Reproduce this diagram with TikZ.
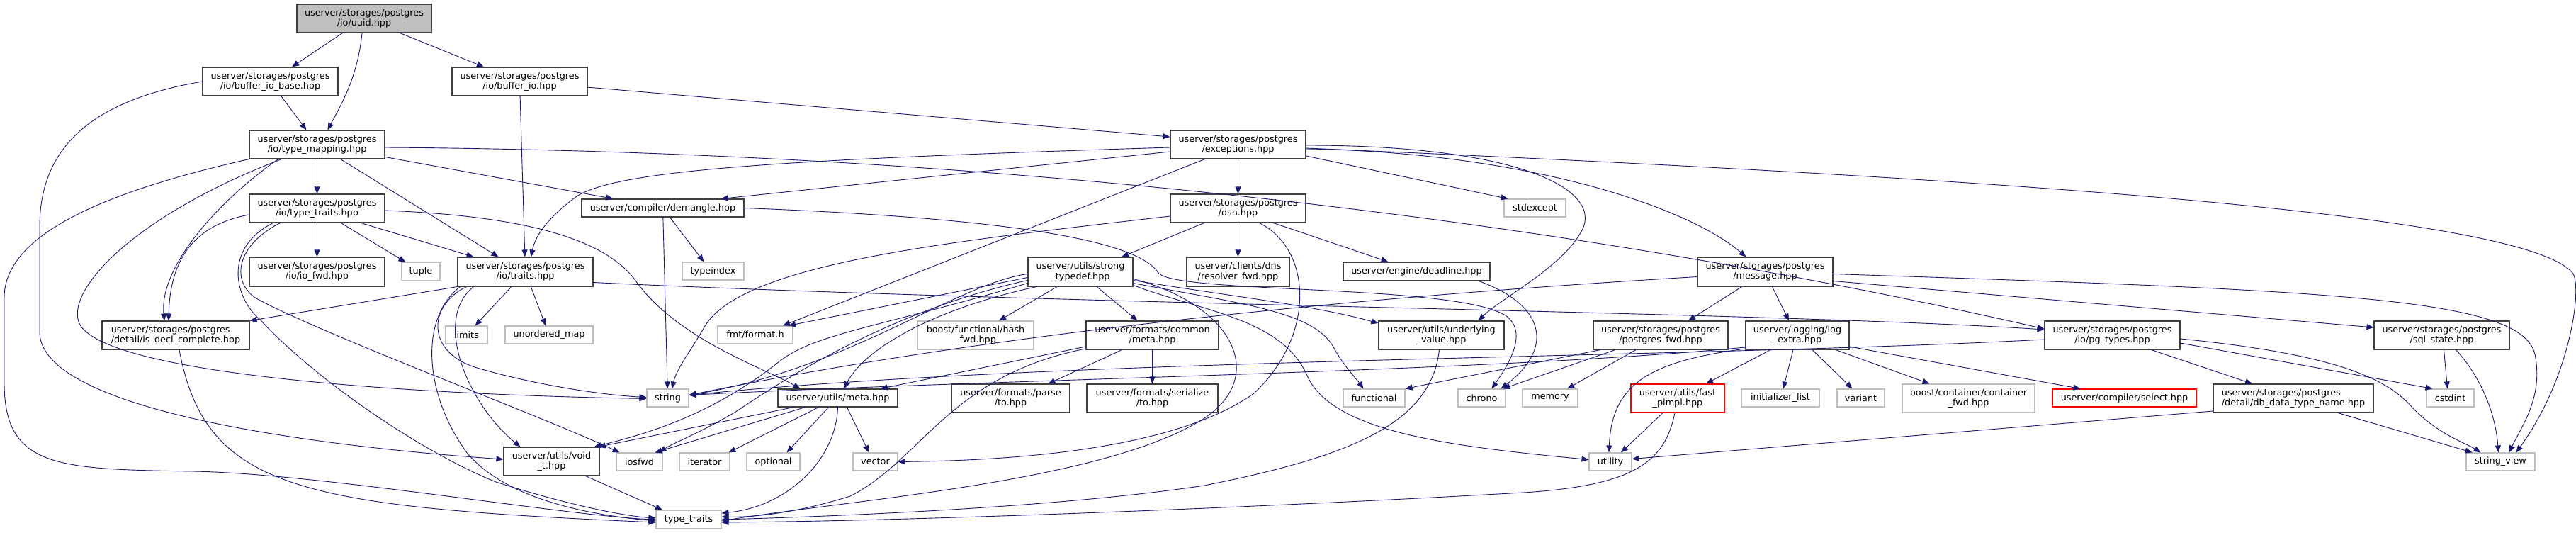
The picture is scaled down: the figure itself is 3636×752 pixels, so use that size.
\documentclass[tikz,border=0pt]{standalone}
\usepackage{fontspec}
\setmainfont{DejaVu Sans}
\usetikzlibrary{arrows.meta}
\definecolor{edgec}{HTML}{191970}
\definecolor{bordc}{HTML}{404040}
\definecolor{grayb}{HTML}{BFBFBF}
\definecolor{redb}{HTML}{FF0000}
\newcommand{\dxfont}{\fontsize{12.8pt}{14.3pt}\selectfont}
\tikzset{
  nb/.style={draw=bordc, fill=white, line width=1.1pt, inner sep=0pt, align=center, font=\dxfont, rectangle},
  ng/.style={nb, draw=grayb},
  nr/.style={nb, draw=redb},
  nm/.style={nb, fill=grayb},
  e/.style={draw=edgec, line width=0.9pt, -{Triangle[length=10pt,width=8pt]}},
}
\begin{document}
\begin{tikzpicture}[x=1pt,y=-1pt]
\useasboundingbox[fill=white] (0,0) rectangle (3636,752);
% nodes
\node[nm, minimum width=190pt, minimum height=40pt] (uuid) at (514,26) {userver/storages/postgres\\/io/uuid.hpp};
\node[nb, minimum width=191pt, minimum height=40pt] (bib) at (381.5,115) {userver/storages/postgres\\/io/buffer\_io\_base.hpp};
\node[nb, minimum width=191pt, minimum height=40pt] (bio) at (733.5,115) {userver/storages/postgres\\/io/buffer\_io.hpp};
\node[nb, minimum width=191pt, minimum height=40pt] (tm) at (447.5,204) {userver/storages/postgres\\/io/type\_mapping.hpp};
\node[nb, minimum width=191pt, minimum height=40pt] (tti) at (447.5,294) {userver/storages/postgres\\/io/type\_traits.hpp};
\node[nb, minimum width=191pt, minimum height=41pt] (iofwd) at (447.5,383.5) {userver/storages/postgres\\/io/io\_fwd.hpp};
\node[ng, minimum width=54pt, minimum height=25pt] (tuple) at (594,383) {tuple};
\node[nb, minimum width=229pt, minimum height=25pt] (dem) at (935.5,293.5) {userver/compiler/demangle.hpp};
\node[nb, minimum width=191pt, minimum height=41pt] (trt) at (741.5,383.5) {userver/storages/postgres\\/io/traits.hpp};
\node[ng, minimum width=87pt, minimum height=25pt] (tidx) at (1006.5,382.5) {typeindex};
\node[nb, minimum width=191pt, minimum height=40pt] (exc) at (1747.5,204) {userver/storages/postgres\\/exceptions.hpp};
\node[nb, minimum width=191pt, minimum height=40pt] (dsn) at (1747.5,294) {userver/storages/postgres\\/dsn.hpp};
\node[nb, minimum width=148pt, minimum height=41pt] (st) at (1525,383.5) {userver/utils/strong\\\_typedef.hpp};
\node[nb, minimum width=145pt, minimum height=41pt] (rfwd) at (1747.5,383.5) {userver/clients/dns\\/resolver\_fwd.hpp};
\node[ng, minimum width=87pt, minimum height=25pt] (stdexc) at (2166.5,293.5) {stdexcept};
\node[nb, minimum width=207pt, minimum height=26pt] (dl) at (1999.5,383) {userver/engine/deadline.hpp};
\node[nb, minimum width=191pt, minimum height=41pt] (msg) at (2491.5,383.5) {userver/storages/postgres\\/message.hpp};
\node[nb, minimum width=208pt, minimum height=40pt, align=left] (idc) at (248,473) {userver/storages/postgres\\/detail/is\_decl\_complete.hpp};
\node[ng, minimum width=59pt, minimum height=25pt] (lim) at (658.5,472.5) {limits};
\node[ng, minimum width=124pt, minimum height=25pt] (umap) at (775,472.5) {unordered\_map};
\node[ng, minimum width=106pt, minimum height=25pt] (fmt) at (1066,472.5) {fmt/format.h};
\node[ng, minimum width=59pt, minimum height=25pt] (str) at (942.5,561.5) {string};
\node[nb, minimum width=169pt, minimum height=25pt] (meta) at (1182.5,561.5) {userver/utils/meta.hpp};
\node[nb, minimum width=135pt, minimum height=40pt] (vti) at (778.5,651) {userver/utils/void\\\_t.hpp};
\node[ng, minimum width=65pt, minimum height=25pt] (iosfwd) at (902.5,651.5) {iosfwd};
\node[ng, minimum width=71pt, minimum height=25pt] (iter) at (994.5,651.5) {iterator};
\node[ng, minimum width=75pt, minimum height=25pt] (opt) at (1091.5,651.5) {optional};
\node[ng, minimum width=92pt, minimum height=26pt] (ttr) at (972,733) {type\_traits};
\node[ng, minimum width=164pt, minimum height=40pt] (hfwd) at (1377,473) {boost/functional/hash\\\_fwd.hpp};
\node[nb, minimum width=187pt, minimum height=40pt] (fcm) at (1626.5,473) {userver/formats/common\\/meta.hpp};
\node[nb, minimum width=167pt, minimum height=40pt] (fpt) at (1426.5,562) {userver/formats/parse\\/to.hpp};
\node[nb, minimum width=185pt, minimum height=40pt] (fst) at (1626.5,562) {userver/formats/serialize\\/to.hpp};
\node[ng, minimum width=63pt, minimum height=25pt] (vec) at (1235.5,651.5) {vector};
\node[nb, minimum width=177pt, minimum height=40pt] (uv) at (2034.5,473) {userver/utils/underlying\\\_value.hpp};
\node[ng, minimum width=87pt, minimum height=25pt] (func) at (1939.5,561.5) {functional};
\node[ng, minimum width=67pt, minimum height=25pt] (chr) at (2091.5,561.5) {chrono};
\node[ng, minimum width=78pt, minimum height=25pt] (mem) at (2188,561.5) {memory};
\node[nb, minimum width=190pt, minimum height=40pt] (pfwd) at (2344,473) {userver/storages/postgres\\/postgres\_fwd.hpp};
\node[nr, minimum width=132pt, minimum height=40pt] (fpi) at (2368,562) {userver/utils/fast\\\_pimpl.hpp};
\node[ng, minimum width=60pt, minimum height=25pt] (util) at (2273,651.5) {utility};
\node[nb, minimum width=146pt, minimum height=40pt] (lex) at (2537,473) {userver/logging/log\\\_extra.hpp};
\node[ng, minimum width=110pt, minimum height=25pt] (ilist) at (2513,561.5) {initializer\_list};
\node[ng, minimum width=67pt, minimum height=25pt] (var) at (2626.5,561.5) {variant};
\node[ng, minimum width=187pt, minimum height=40pt] (bcf) at (2778.5,562) {boost/container/container\\\_fwd.hpp};
\node[nr, minimum width=203pt, minimum height=25pt] (sel) at (2998.5,561.5) {userver/compiler/select.hpp};
\node[nb, minimum width=191pt, minimum height=40pt] (pgt) at (2981.5,473) {userver/storages/postgres\\/io/pg\_types.hpp};
\node[nb, minimum width=191pt, minimum height=40pt] (sqs) at (3446.5,473) {userver/storages/postgres\\/sql\_state.hpp};
\node[nb, minimum width=226pt, minimum height=40pt, align=left] (ddt) at (3237,562) {userver/storages/postgres\\/detail/db\_data\_type\_name.hpp};
\node[ng, minimum width=67pt, minimum height=25pt] (cstd) at (3458.5,561.5) {cstdint};
\node[ng, minimum width=97pt, minimum height=25pt] (sv) at (3529.5,651.5) {string\_view};
% edges: uuid
\draw[e] (uuid) -- (bib);
\draw[e] ([xshift=-3pt]uuid.south) .. controls (505,110) and (480,150) .. ([xshift=15pt]tm.north);
\draw[e] (uuid) -- (bio);
% buffer_io_base
\draw[e] (bib) -- ([xshift=-15pt]tm.north);
\draw[e] (bib.west) .. controls (140,140) and (56,200) .. (56,320) -- (56,470) .. controls (60,580) and (450,630) .. ([yshift=3pt]vti.west);
% buffer_io
\draw[e] (bio) -- (trt);
\draw[e] (bio) -- ([yshift=11pt]exc.west);
% type_mapping
\draw[e] (tm) -- (tti);
\draw[e] (tm) -- ([xshift=-38pt]trt.north);
\draw[e] (tm) -- ([xshift=-70pt]dem.north);
\draw[e] ([yshift=-4pt]tm.east) .. controls (1500,215) and (2300,330) .. ([yshift=9pt]pgt.west);
\draw[e] ([xshift=-55pt]tm.south) .. controls (300,290) and (225,380) .. ([xshift=-16pt]idc.north);
\draw[e] ([xshift=-50pt]tm.south) .. controls (200,300) and (100,400) .. (110,450) .. controls (120,520) and (500,555) .. ([yshift=-1pt]str.west);
\draw[e] (tm.south west) .. controls (150,270) and (6,330) .. (6,420) -- (6,540) .. controls (6,660) and (80,662) .. (272,665) .. controls (450,668) and (800,728) .. (ttr.west);
% io/type_traits
\draw[e] (tti) -- (iofwd);
\draw[e] (tti) -- (tuple);
\draw[e] ([yshift=-9pt]tti.west) .. controls (270,318) and (240,370) .. ([xshift=-10pt]idc.north);
\draw[e] ([xshift=62pt]tti.south) -- ([xshift=-73pt]trt.north);
\draw[e] ([yshift=-3pt]tti.east) .. controls (750,305) and (860,340) .. (900,400) .. controls (960,480) and (1080,520) .. ([xshift=-53pt]meta.north);
\draw[e] ([xshift=-52pt]tti.south) .. controls (335,345) and (325,395) .. (360,420) .. controls (450,470) and (760,585) .. ([xshift=-28pt]iosfwd.north);
\draw[e] ([xshift=-62pt]tti.south) .. controls (315,350) and (330,420) .. (368,452) .. controls (450,540) and (600,640) .. (700,680) .. controls (800,712) and (880,728) .. ([yshift=2pt]ttr.west);
% traits
\draw[e] (trt) -- (lim);
\draw[e] (trt) -- (umap);
\draw[e] (trt.south west) -- (idc.north east);
\draw[e] ([xshift=-83pt]trt.south) .. controls (605,430) and (600,495) .. (670,518) .. controls (760,545) and (860,558) .. ([yshift=1pt]str.west);
\draw[e] ([xshift=-73pt]trt.south) .. controls (610,450) and (660,570) .. ([xshift=-44pt]vti.north);
\draw[e] ([xshift=-92pt]trt.south) .. controls (590,450) and (600,560) .. (660,640) .. controls (720,710) and (850,728) .. ([yshift=-2pt]ttr.west);
\draw[e] ([yshift=-15pt]trt.east) .. controls (1500,430) and (2500,440) .. ([yshift=8pt]pgt.west);
% demangle
\draw[e] (dem) -- (str);
\draw[e] ([xshift=10pt]dem.south) -- ([xshift=-13pt]tidx.north);
\draw[e] (dem.east) .. controls (1350,305) and (1600,330) .. (1635,385) .. controls (1660,415) and (2050,400) .. (2125,445) .. controls (2160,470) and (2125,520) .. ([xshift=14pt]chr.north);
% exceptions
\draw[e] ([yshift=-10pt]exc.west) -- ([xshift=82pt]dem.north);
\draw[e] ([yshift=-4pt]exc.west) .. controls (1100,225) and (860,240) .. (810,280) .. controls (770,310) and (755,335) .. ([xshift=8pt]trt.north);
\draw[e] ([xshift=-47pt]exc.south) -- ([xshift=39pt]fmt.north);
\draw[e] (exc) -- (dsn);
\draw[e] ([yshift=-16pt]exc.east) -- ([xshift=-38pt]stdexc.north);
\draw[e] ([yshift=-6pt]exc.east) .. controls (2150,215) and (2380,290) .. ([xshift=-27pt]msg.north);
\draw[e] ([yshift=-1pt]exc.east) .. controls (2150,205) and (2270,270) .. (2230,330) .. controls (2200,380) and (2120,420) .. ([xshift=52pt]uv.north);
\draw[e] ([yshift=-5pt]exc.east) .. controls (2800,250) and (3560,300) .. (3631,385) .. controls (3645,402) and (3630,530) .. ([xshift=22pt]sv.north);
% dsn
\draw[e] ([yshift=-11pt]dsn.west) .. controls (1350,340) and (1050,370) .. (995,460) .. controls (975,495) and (955,520) .. ([xshift=6pt]str.north);
\draw[e] ([xshift=-48pt]dsn.south) -- ([xshift=58pt]st.north);
\draw[e] (dsn) -- (rfwd);
\draw[e] ([xshift=50pt]dsn.south) -- ([xshift=-40pt]dl.north);
\draw[e] ([xshift=30pt]dsn.south) .. controls (1850,350) and (1860,470) .. (1770,555) .. controls (1650,640) and (1400,650) .. (vec.east);
% strong_typedef
\draw[e] ([xshift=-33pt]st.south) -- ([xshift=33pt]hfwd.north);
\draw[e] ([xshift=23pt]st.south) -- ([xshift=-21pt]fcm.north);
\draw[e] ([yshift=-8pt]st.west) -- ([xshift=47pt]fmt.north);
\draw[e] ([yshift=-3pt]st.west) .. controls (1350,400) and (1200,520) .. ([yshift=4pt]str.east);
\draw[e] ([yshift=-12pt]st.west) .. controls (1250,440) and (1100,540) .. (1040,580) .. controls (990,610) and (950,625) .. ([xshift=28pt]iosfwd.north);
\draw[e] ([yshift=-16pt]st.west) .. controls (1250,460) and (1150,470) .. (1100,510) .. controls (1000,590) and (900,615) .. ([xshift=-8pt]vti.north east);
\draw[e] ([xshift=-62pt]st.south) .. controls (1300,440) and (1215,500) .. ([xshift=9pt]meta.north);
\draw[e] ([yshift=-10pt]st.east) .. controls (1740,430) and (1790,530) .. (1700,590) .. controls (1560,680) and (1200,705) .. ([yshift=-2pt]ttr.east);
\draw[e] ([yshift=-12pt]st.east) .. controls (1750,420) and (1850,430) .. ([yshift=17pt]uv.west);
\draw[e] ([yshift=-16pt]st.east) .. controls (1760,430) and (1860,440) .. (1885,495) .. controls (1900,520) and (1915,535) .. ([xshift=-15pt]func.north);
\draw[e] ([yshift=-19pt]st.east) .. controls (1700,440) and (1810,450) .. (1845,530) .. controls (1880,610) and (2050,630) .. ([yshift=3pt]util.west);
% formats/common/meta
\draw[e] ([xshift=-43pt]fcm.south) -- ([xshift=53pt]fpt.north);
\draw[e] (fcm) -- (fst);
\draw[e] ([yshift=-16pt]fcm.west) -- ([xshift=60pt]meta.north);
\draw[e] ([yshift=-19pt]fcm.west) .. controls (1340,530) and (1300,650) .. (1200,700) .. controls (1120,725) and (1060,730) .. ([yshift=4pt]ttr.east);
% utils/meta
\draw[e] ([xshift=-46pt]meta.south) -- ([xshift=22pt]iosfwd.north);
\draw[e] ([xshift=-62pt]meta.south) -- ([xshift=-2pt]vti.north east);
\draw[e] ([xshift=-27pt]meta.south) -- ([xshift=34pt]iter.north);
\draw[e] ([xshift=-13pt]meta.south) -- ([xshift=19pt]opt.north);
\draw[e] (meta.south) .. controls (1180,650) and (1110,715) .. ([yshift=9pt]ttr.east);
\draw[e] ([xshift=13pt]meta.south) -- ([xshift=-9pt]vec.north);
% void_t, is_decl_complete, underlying_value, fast_pimpl
\draw[e] ([xshift=48pt]vti.south) -- ([xshift=-37pt]ttr.north);
\draw[e] ([xshift=5pt]idc.south) .. controls (290,690) and (420,715) .. ([yshift=-4pt]ttr.west);
\draw[e] ([xshift=-3pt]uv.south) .. controls (2020,600) and (1900,645) .. (1700,685) .. controls (1500,715) and (1200,728) .. (ttr.east);
\draw[e] ([xshift=-4pt]fpi.south) .. controls (2350,650) and (2310,685) .. (2150,695) .. controls (1800,715) and (1300,735) .. ([yshift=-4pt]ttr.east);
\draw[e] ([xshift=-21pt]fpi.south) -- ([xshift=15pt]util.north);
% log_extra
\draw[e] ([xshift=-38pt]lex.south) -- ([xshift=40pt]fpi.north);
\draw[e] ([xshift=-6pt]lex.south) -- ([xshift=4pt]ilist.north);
\draw[e] ([xshift=21pt]lex.south) -- ([xshift=-12pt]var.north);
\draw[e] ([xshift=54pt]lex.south) -- ([xshift=-55pt]bcf.north);
\draw[e] ([yshift=-16pt]lex.east) -- ([xshift=-62pt]sel.north);
\draw[e] ([yshift=-17pt]lex.west) .. controls (2100,525) and (1400,535) .. ([yshift=4pt]str.east);
\draw[e] ([yshift=-19pt]lex.west) .. controls (2330,510) and (2275,540) .. ([xshift=-2pt]util.north);
% message
\draw[e] ([yshift=-3pt]msg.east) .. controls (3300,410) and (3560,420) .. (3578,500) .. controls (3590,560) and (3560,600) .. ([xshift=12pt]sv.north);
\draw[e] ([yshift=-13pt]msg.east) -- ([yshift=11pt]sqs.west);
\draw[e] ([xshift=10pt]msg.south) -- ([xshift=-12pt]lex.north);
\draw[e] ([xshift=-33pt]msg.south) -- ([xshift=39pt]pfwd.north);
\draw[e] ([yshift=-7pt]msg.west) .. controls (1900,420) and (1400,470) .. ([yshift=4pt]str.east);
% postgres_fwd, deadline
\draw[e] ([xshift=-85pt]pfwd.south) -- (func.north east);
\draw[e] ([xshift=-64pt]pfwd.south) -- ([xshift=30pt]chr.north);
\draw[e] ([xshift=-35pt]pfwd.south) -- ([xshift=24pt]mem.north);
\draw[e] ([xshift=88pt]dl.south) .. controls (2180,430) and (2195,490) .. ([xshift=27pt]chr.north);
% pg_types
\draw[e] ([yshift=-6pt]pgt.west) .. controls (2400,505) and (1500,505) .. ([yshift=4pt]str.east);
\draw[e] ([yshift=-11pt]pgt.east) -- ([xshift=-25pt]cstd.north);
\draw[e] ([yshift=-5pt]pgt.east) .. controls (3300,500) and (3370,535) .. (3405,575) .. controls (3440,612) and (3480,625) .. ([xshift=-28pt]sv.north);
\draw[e] ([xshift=55pt]pgt.south) -- ([xshift=-58pt]ddt.north);
% db_data_type_name, sql_state
\draw[e] ([yshift=-18pt]ddt.west) -- ([yshift=4pt]util.east);
\draw[e] ([xshift=63pt]ddt.south) -- ([xshift=-40pt]sv.north);
\draw[e] ([xshift=3pt]sqs.south) -- ([xshift=-4pt]cstd.north);
\draw[e] ([xshift=20pt]sqs.south) .. controls (3500,530) and (3522,580) .. ([xshift=-3pt]sv.north);
\end{tikzpicture}
\end{document}
